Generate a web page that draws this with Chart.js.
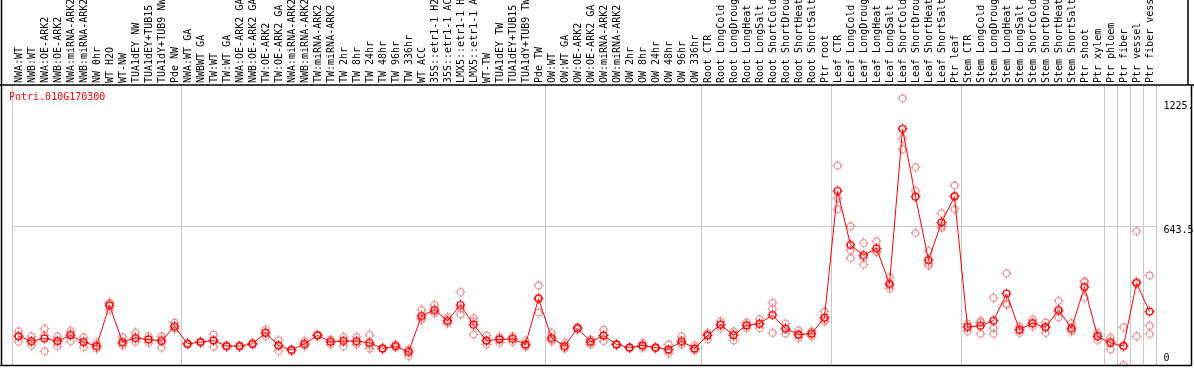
<!DOCTYPE html>
<html><head><meta charset="utf-8">
<script src="https://cdn.jsdelivr.net/npm/chart.js@4/dist/chart.umd.min.js"></script>
<style>html,body{margin:0;padding:0;background:#fff;}#wrap{position:relative;width:1194px;height:370px;}</style>
</head><body><div id="wrap"><canvas id="c" width="1194" height="370"></canvas></div>
<script>
const geneId = 'Potri.010G170300';
const categories = [
 'NWA:WT','NWB:WT','NWA:OE-ARK2','NWB:OE-ARK2','NWA:miRNA-ARK2','NWB:miRNA-ARK2','NW 0hr','WT H2O','WT-NW','TUA1dEY NW','TUA1dEY+TUB15 NW','TUA1dY+TUB9 NW','Pde NW',
 'NWA:WT GA','NWBWT GA','TW:WT','TW:WT GA','NWA:OE-ARK2 GA','NWB:OE-ARK2 GA','TW:OE-ARK2','TW:OE-ARK2 GA','NWA:miRNA-ARK2','NWB:miRNA-ARK2','TW:miRNA-ARK2','TW:miRNA-ARK2',
 'TW 2hr','TW 8hr','TW 24hr','TW 48hr','TW 96hr','TW 336hr','WT ACC','35S::etr1-1 H2O','35S::etr1-1 ACC','LMX5::etr1-1 H2O','LMX5::etr1-1 ACC','WT-TW','TUA1dEY TW','TUA1dEY+TUB15 TW','TUA1dY+TUB9 TW','Pde TW',
 'OW:WT','OW:WT GA','OW:OE-ARK2','OW:OE-ARK2 GA','OW:miRNA-ARK2','OW:miRNA-ARK2','OW 2hr','OW 8hr','OW 24hr','OW 48hr','OW 96hr','OW 336hr',
 'Root CTR','Root LongCold','Root LongDrought','Root LongHeat','Root LongSalt','Root ShortCold','Root ShortDrought','Root ShortHeat','Root ShortSalt','Ptr root',
 'Leaf CTR','Leaf LongCold','Leaf LongDrought','Leaf LongHeat','Leaf LongSalt','Leaf ShortCold','Leaf ShortDrought','Leaf ShortHeat','Leaf ShortSalt','Ptr leaf',
 'Stem CTR','Stem LongCold','Stem LongDrought','Stem LongHeat','Stem LongSalt','Stem ShortCold','Stem ShortDrought','Stem ShortHeat','Stem ShortSalt','Ptr shoot','Ptr xylem',
 'Ptr phloem','Ptr fiber','Ptr vessel','Ptr fiber vessel'
];
const groupSizes = [13, 28, 12, 10, 10, 11, 1, 1, 1, 1];
const meanValues = [
 92,68,81,68,97,63,43,247,63,84,76,68,142,
 54,63,71,43,43,54,109,46,23,54,97,64,68,68,59,31,43,13,194,224,170,249,150,71,76,79,51,281,
 84,43,133,64,96,51,35,46,35,26,68,31,
 96,150,97,147,155,199,130,101,105,186,
 821,550,499,533,355,1132,792,474,663,792,
 138,145,170,306,125,158,137,224,133,339,92,
 59,43,359,216
];
const rep1 = [
 117,92,130,92,119,87,59,257,87,109,92,92,161,
 54,63,101,43,43,54,125,73,23,68,97,76,89,89,99,31,51,-7,224,249,188,314,183,96,84,92,68,347,
 109,59,133,76,125,51,35,59,35,51,92,46,
 76,166,117,161,178,260,155,122,117,216,
 948,644,560,569,388,1285,940,520,709,849,
 155,161,285,408,142,175,161,270,158,369,109,
 84,137,619,397
];
const rep2 = [
 64,46,17,43,68,38,30,224,46,64,59,35,133,
 56,60,40,40,46,58,92,18,20,43,100,51,43,51,31,28,40,20,175,207,158,202,101,51,59,64,43,211,
 68,30,128,51,68,48,33,35,32,7,51,24,
 105,133,71,133,133,229,105,84,92,166,
 783,523,451,515,331,1083,821,446,635,729,
 117,105,133,257,109,142,109,186,125,285,73,
 26,-52,92,145
];
const rep3 = [
 95,66,96,69,104,64,40,260,56,79,77,77,132,
 52,66,72,46,40,50,110,47,26,51,94,65,72,64,47,34,38,26,183,216,164,231,166,66,85,81,42,285,
 75,40,138,65,95,54,37,44,38,21,61,23,
 107,151,103,147,154,109,130,97,106,176,
 729,484,486,515,346,1030,610,456,645,798,
 142,169,104,249,124,157,141,216,116,363,94,
 67,44,366,104
];
const yTickValues = [0, 643.5, 1225];
const yTickLabels = ['0', '643.5', '1225.'];
const yMin = -52, yMax = 1352;

const MONO = '"DejaVu Sans Mono", "Liberation Mono", monospace';

function makeMarker(color, lw) {
  const cv = document.createElement('canvas');
  cv.width = 11; cv.height = 11;
  const g = cv.getContext('2d');
  g.strokeStyle = color; g.lineWidth = lw;
  g.beginPath(); g.arc(5.5, 5.5, 3.4, 0, Math.PI * 2); g.stroke();
  g.lineWidth = 1;
  g.beginPath();
  g.moveTo(5.5, 0.5); g.lineTo(5.5, 2.2);
  g.moveTo(5.5, 8.8); g.lineTo(5.5, 10.5);
  g.moveTo(0.5, 5.5); g.lineTo(2.2, 5.5);
  g.moveTo(8.8, 5.5); g.lineTo(10.5, 5.5);
  g.stroke();
  return cv;
}
const meanMarker = makeMarker('#ff0000', 1.4);
const repMarker = makeMarker('rgba(232,120,120,0.85)', 1.1);

const boundaries = [0];
groupSizes.forEach(s => boundaries.push(boundaries[boundaries.length - 1] + s));

const framePlugin = {
  id: 'frame',
  afterDraw(chart) {
    const ctx = chart.ctx, a = chart.chartArea;
    ctx.save();
    ctx.strokeStyle = '#000'; ctx.lineWidth = 1.5;
    ctx.beginPath();
    ctx.moveTo(0, a.top); ctx.lineTo(1194, a.top);
    ctx.moveTo(1.5, 0); ctx.lineTo(1.5, a.bottom + 0.5);
    ctx.moveTo(0, a.bottom + 0.5); ctx.lineTo(1192, a.bottom + 0.5);
    ctx.moveTo(1191.5, a.top); ctx.lineTo(1191.5, a.bottom + 0.5);
    ctx.moveTo(1188, 0); ctx.lineTo(1188, a.top);
    ctx.stroke();
    ctx.fillStyle = '#ff0000';
    ctx.font = '10px ' + MONO;
    ctx.textBaseline = 'middle';
    ctx.textAlign = 'left';
    ctx.fillText(geneId, a.left - 3, a.top + 12);
    ctx.restore();
  }
};

new Chart(document.getElementById('c'), {
  type: 'line',
  data: {
    labels: categories,
    datasets: [
      { data: meanValues, borderColor: '#ff0000', borderWidth: 1, pointStyle: meanMarker, pointRadius: 4, tension: 0, order: 0, fill: false },
      { data: rep1, showLine: false, pointStyle: repMarker, pointRadius: 4, order: 1 },
      { data: rep2, showLine: false, pointStyle: repMarker, pointRadius: 4, order: 2 },
      { data: rep3, showLine: false, pointStyle: repMarker, pointRadius: 4, order: 3 }
    ]
  },
  options: {
    responsive: false,
    animation: false,
    devicePixelRatio: 1,
    layout: { padding: { left: 12, right: 0, top: 0, bottom: 1 } },
    plugins: { legend: { display: false }, tooltip: { enabled: false }, title: { display: false } },
    scales: {
      x: {
        type: 'category', position: 'top', offset: true,
        grid: { offset: true, drawTicks: false, lineWidth: 1,
          color: (c) => (c.index === undefined || boundaries.includes(c.index)) ? '#c8c8c8' : 'rgba(0,0,0,0)' },
        border: { display: false },
        ticks: { autoSkip: false, minRotation: 90, maxRotation: 90, padding: 2, labelOffset: 12.5, color: '#000',
          font: { family: MONO, size: 10 },
          callback: (v, i) => categories[i].slice(0, 14) },
        afterFit: (s) => { s.height = 85; s.paddingLeft = 0; s.paddingRight = 0; }
      },
      y: {
        position: 'right', min: yMin, max: yMax,
        afterBuildTicks: (s) => { s.ticks = yTickValues.map(v => ({ value: v })); },
        grid: { drawTicks: false, color: (c) => (c.tick && c.tick.value === 643.5) ? '#c8c8c8' : 'rgba(0,0,0,0)' },
        border: { display: false },
        ticks: { padding: 7.5, labelOffset: 4, color: '#000',
          font: (c) => ({ family: MONO, size: 10, lineHeight: (c.tick && c.tick.value === 1225) ? 1.5 : 1.2 }),
          callback: (v) => { const i = yTickValues.indexOf(v); const t = yTickLabels[i]; return v === 1225 ? [t, ''] : t; } },
        afterFit: (s) => { s.width = 38; s.paddingTop = 0; s.paddingBottom = 0; }
      }
    }
  },
  plugins: [framePlugin]
});
</script></body></html>
